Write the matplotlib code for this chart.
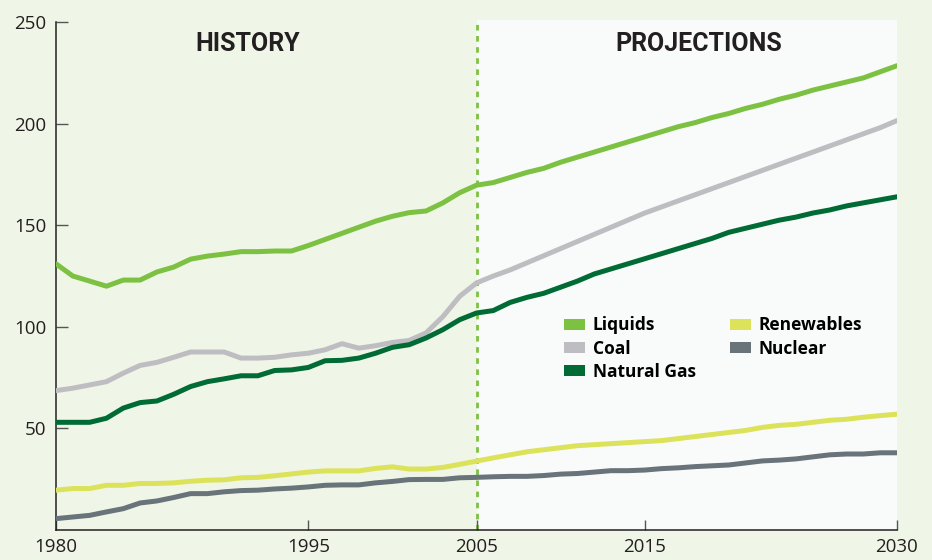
import matplotlib
matplotlib.use("Agg")
import matplotlib.pyplot as plt
from matplotlib.patches import Patch

years_hist = list(range(1980, 2006))
years_proj = list(range(2005, 2031))

liquids_hist = [131, 125, 122.5, 120, 123, 123, 127, 129.4, 133.3, 134.8, 135.8, 137, 137,
                137.3, 137.3, 140, 143, 146, 149, 152, 154.4, 156.2, 157, 161, 166, 169.7]
liquids_proj = [169.7, 171, 173.5, 176, 178, 181, 183.5, 186, 188.5, 191, 193.5, 196, 198.5,
                200.5, 203, 205, 207.5, 209.5, 212, 214, 216.5, 218.5, 220.5, 222.5, 225.5, 228.5]

coal_hist = [68.6, 69.8, 71.4, 73, 77.2, 81, 82.5, 85, 87.6, 87.6, 87.6, 84.6, 84.6,
             85, 86.2, 87, 88.7, 91.7, 89.5, 90.7, 92.3, 93.3, 97, 105, 115, 121.6]
coal_proj = [121.6, 125, 128, 131.5, 135, 138.5, 142, 145.5, 149, 152.5, 156, 159, 162,
             165, 168, 171, 174, 177, 180, 183, 186, 189, 192, 195, 198, 201.5]

gas_hist = [53, 53, 53, 55, 60, 62.7, 63.5, 66.8, 70.6, 73, 74.4, 75.9, 75.9,
            78.5, 78.8, 80, 83.3, 83.5, 84.6, 87, 89.9, 91.2, 94.5, 98.6, 103.5, 106.8]
gas_proj = [106.8, 108, 112, 114.5, 116.5, 119.5, 122.5, 126, 128.5, 131, 133.5, 136, 138.5,
            141, 143.5, 146.5, 148.5, 150.5, 152.5, 154, 156, 157.5, 159.5, 161, 162.5, 164]

renew_hist = [19.6, 20.4, 20.4, 22, 22, 22.9, 22.9, 23.2, 24, 24.5, 24.7, 25.7, 25.9,
              26.7, 27.6, 28.5, 29.1, 29.1, 29.1, 30.3, 31.1, 30, 30, 30.8, 32.3, 33.9]
renew_proj = [33.9, 35.5, 37, 38.5, 39.5, 40.5, 41.5, 42, 42.5, 43, 43.5, 44, 45,
              46, 47, 48, 49, 50.5, 51.5, 52, 53, 54, 54.5, 55.5, 56.3, 57]

nuclear_hist = [5.6, 6.4, 7.2, 8.9, 10.5, 13.3, 14.3, 16, 17.9, 17.9, 18.8, 19.4, 19.6,
                20.2, 20.6, 21.2, 22, 22.2, 22.2, 23.2, 23.9, 24.8, 24.9, 24.9, 25.7, 25.9]
nuclear_proj = [25.9, 26.2, 26.4, 26.4, 26.8, 27.5, 27.8, 28.5, 29.2, 29.2, 29.5, 30.2, 30.6,
                31.2, 31.6, 32, 33, 34, 34.4, 35, 36, 37, 37.4, 37.4, 38, 38]

names = ["Liquids", "Coal", "Natural Gas", "Renewables", "Nuclear"]
colors = ["#7DC142", "#BEBEC2", "#006B35", "#DCE35B", "#69737A"]
series = [(liquids_hist, liquids_proj), (coal_hist, coal_proj), (gas_hist, gas_proj),
          (renew_hist, renew_proj), (nuclear_hist, nuclear_proj)]

x_ticks = [1980, 1995, 2005, 2015, 2030]
y_ticks = [50, 100, 150, 200, 250]

bg = "#EFF6E7"
ink = "#231F20"

fig = plt.figure(figsize=(9.32, 5.6), dpi=100, facecolor=bg)
ax = fig.add_axes([56 / 932, 30 / 560, 841 / 932, 510 / 560])
ax.set_facecolor(bg)

ax.axvspan(2005, 2030, ymin=0, ymax=1, color="#F8FBF9", lw=0, zorder=0)
ax.axvline(2005, color="#7DC142", lw=2, ls=(0, (2.0, 2.0)), zorder=1)

for (h, p), c in zip(series, colors):
    ax.plot(years_hist + years_proj[1:], h + p[1:], color=c, lw=3.6,
            solid_capstyle="round", solid_joinstyle="round", zorder=3)

ax.set_xlim(1980, 2030)
ax.set_ylim(0, 251)
ax.set_xticks(x_ticks)
ax.set_yticks(y_ticks)
for s in ["top", "right"]:
    ax.spines[s].set_visible(False)
for s in ["left", "bottom"]:
    ax.spines[s].set_color(ink)
    ax.spines[s].set_linewidth(1.1)
ax.spines["left"].set_bounds(0, 250)
ax.tick_params(axis="y", direction="in", length=8.5, width=1, color="#555555", pad=7,
               labelsize=13.5, labelcolor=ink)
ax.tick_params(axis="x", direction="in", length=7, width=1, color="#555555", pad=6,
               labelsize=13.5, labelcolor=ink)
for lab in ax.get_xticklabels() + ax.get_yticklabels():
    lab.set_family("Open Sans")

ax.text(1991.4, 239, "HISTORY", ha="center", va="center", fontsize=18,
        fontweight="bold", family="Roboto", color=ink)
ax.text(2018.2, 239, "PROJECTIONS", ha="center", va="center", fontsize=18,
        fontweight="bold", family="Roboto", color=ink)

handles = [Patch(facecolor=c, edgecolor="none") for c in colors]
ax.legend(handles, names, ncol=2, loc="upper left", bbox_to_anchor=(0.594, 0.436),
          frameon=False, borderpad=0, handlelength=1.2, handleheight=0.63,
          handletextpad=0.45, columnspacing=1.95, labelspacing=0.3,
          prop={"family": "Open Sans", "weight": "bold", "size": 12.5})

fig.savefig("out.png", dpi=100, facecolor=bg)
